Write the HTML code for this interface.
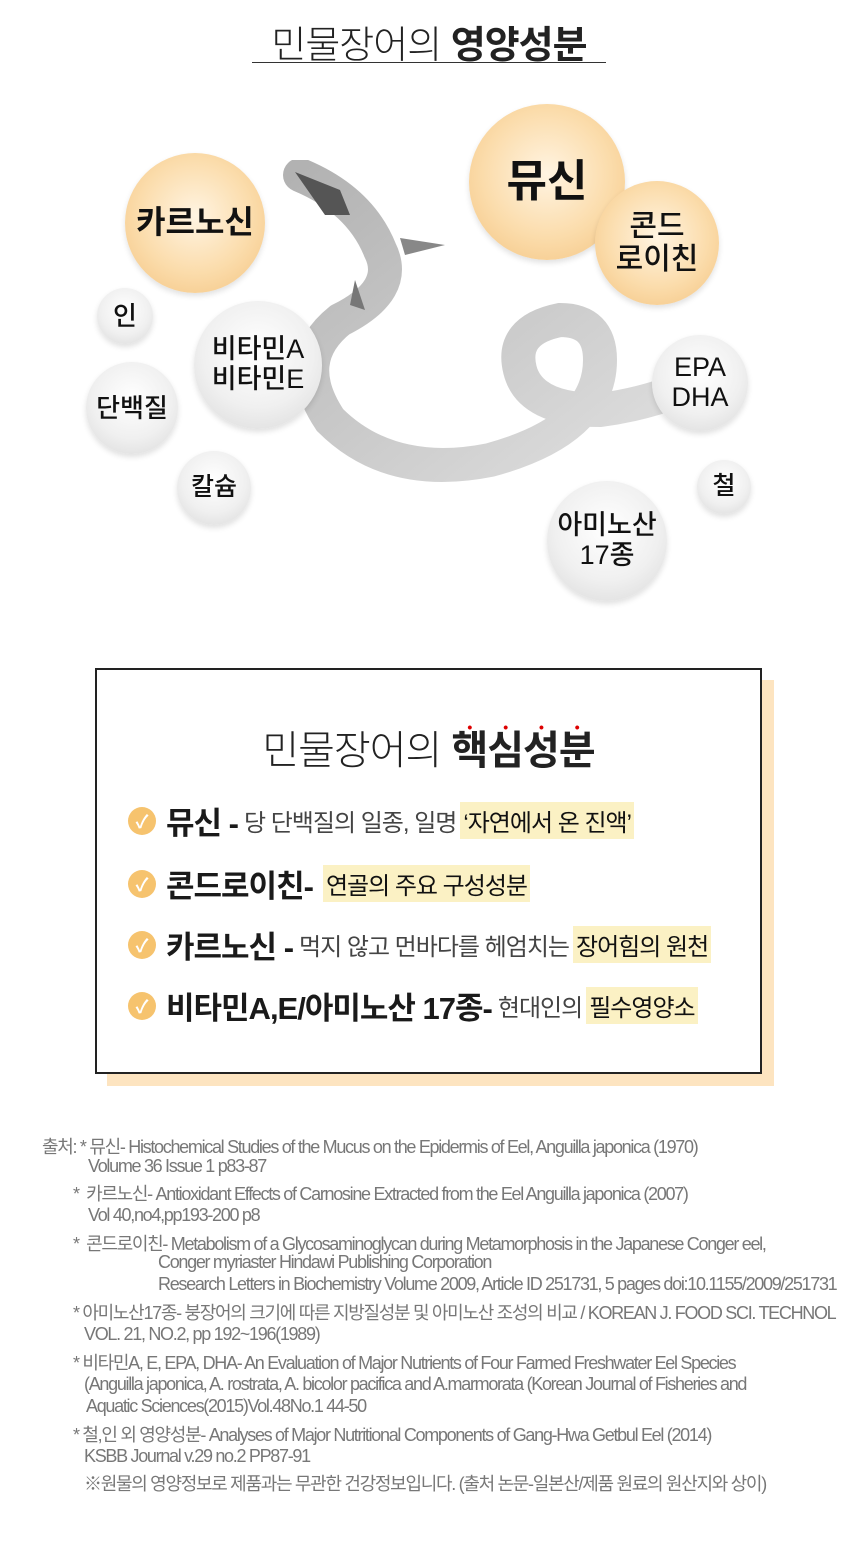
<!DOCTYPE html>
<html><head><meta charset="utf-8"><style>
*{margin:0;padding:0;box-sizing:border-box}
body{width:860px;height:1560px;background:#fff;position:relative;overflow:hidden;font-family:"Liberation Sans","Noto Sans CJK KR",sans-serif;color:#111}
.a{position:absolute}
.c{position:absolute;border-radius:50%;display:flex;align-items:center;justify-content:center;text-align:center;font-weight:500;color:#111;line-height:1.1}
.o{background:radial-gradient(circle at 50% 45%,#fff4e2 0%,#fbdcab 55%,#f3c27e 100%);box-shadow:0 3px 6px rgba(0,0,0,.12)}
.g{background:radial-gradient(circle at 50% 40%,#ffffff 0%,#f0f0f0 55%,#d8d8d8 100%);box-shadow:0 3px 6px rgba(0,0,0,.12)}
.row{position:absolute;left:128px;display:flex;align-items:center;white-space:nowrap}
.chk{width:28px;height:28px;border-radius:50%;background:#f6c36e;color:#fff;font-size:18px;font-weight:bold;display:flex;align-items:center;justify-content:center;margin-right:10px}
.b{font-size:31px;font-weight:bold;color:#1a1a1a;letter-spacing:-1px}
.n{font-size:24px;color:#444;letter-spacing:-1px;margin-left:6px}
.h{background:#fbf1c4;font-size:24px;color:#111;padding:1px 3px;letter-spacing:-1px;margin-left:4px}
.ref{position:absolute;font-size:18px;color:#777;letter-spacing:-1.3px;white-space:nowrap}
</style></head><body>
<div class="a" style="left:252px;top:14px;width:354px;text-align:center;font-size:38px;letter-spacing:-1px;color:#222"><span style="font-weight:300">민물장어의 </span><b>영양성분</b></div>
<div class="a" style="left:252px;top:62px;width:354px;height:1px;background:#333"></div>

<svg class="a" style="left:280px;top:160px" width="420" height="420" viewBox="280 160 420 420">
<defs><linearGradient id="eg" x1="0" y1="0" x2="1" y2="1"><stop offset="0" stop-color="#555"/><stop offset="1" stop-color="#bbb"/></linearGradient></defs>
<path d="M300 175 Q360 200 380 250 Q400 290 340 320 Q290 360 330 420 Q390 480 490 460 Q600 430 600 360 Q600 320 560 320 Q510 330 520 370 Q530 410 600 410 Q640 405 680 390" fill="none" stroke="url(#eg)" stroke-width="34" stroke-linecap="round" opacity=".45"/>
<path d="M295 172 L340 190 L350 215 L325 215 Z" fill="#555"/>
<path d="M400 238 L445 245 L405 255 Z" fill="#888"/>
<path d="M355 280 L365 310 L350 305 Z" fill="#777"/>
</svg>

<div class="c o" style="left:125px;top:153px;width:140px;height:140px;font-size:32px;font-weight:bold">카르노신</div>
<div class="c o" style="left:469px;top:104px;width:156px;height:156px;font-size:44px;font-weight:bold">뮤신</div>
<div class="c o" style="left:595px;top:181px;width:124px;height:124px;font-size:30px">콘드<br>로이친</div>
<div class="c g" style="left:97px;top:288px;width:56px;height:56px;font-size:26px">인</div>
<div class="c g" style="left:194px;top:301px;width:128px;height:128px;font-size:27px">비타민A<br>비타민E</div>
<div class="c g" style="left:86px;top:362px;width:92px;height:92px;font-size:26px">단백질</div>
<div class="c g" style="left:177px;top:451px;width:74px;height:74px;font-size:25px">칼슘</div>
<div class="c g" style="left:652px;top:335px;width:96px;height:96px;font-size:27px">EPA<br>DHA</div>
<div class="c g" style="left:697px;top:460px;width:54px;height:54px;font-size:25px">철</div>
<div class="c g" style="left:547px;top:481px;width:120px;height:120px;font-size:27px">아미노산<br>17종</div>

<div class="a" style="left:107px;top:680px;width:667px;height:406px;background:#fde4c0"></div>
<div class="a" style="left:95px;top:668px;width:667px;height:406px;background:#fff;border:2px solid #222"></div>
<div class="a" style="left:95px;top:718px;width:667px;text-align:center;font-size:40px;letter-spacing:-1px;color:#222"><span style="font-weight:300">민물장어의 </span><b style="position:relative">핵심성분<span style="position:absolute;left:0;top:-10px;width:100%;display:flex;justify-content:space-around;color:#d00;font-size:14px">•<span>•</span><span>•</span><span>•</span></span></b></div>

<div class="row" style="top:798px"><span class="chk">✓</span><span class="b">뮤신 -</span><span class="n">당 단백질의 일종, 일명</span><span class="h">‘자연에서 온 진액’</span></div>
<div class="row" style="top:861px"><span class="chk">✓</span><span class="b">콘드로이친-</span><span class="h" style="margin-left:10px">연골의 주요 구성성분</span></div>
<div class="row" style="top:922px"><span class="chk">✓</span><span class="b">카르노신 -</span><span class="n">먹지 않고 먼바다를 헤엄치는</span><span class="h">장어힘의 원천</span></div>
<div class="row" style="top:983px"><span class="chk">✓</span><span class="b">비타민A,E/아미노산 17종-</span><span class="n">현대인의</span><span class="h">필수영양소</span></div>

<div class="ref" style="left:42px;top:1133px">출처: * 뮤신- Histochemical Studies of the Mucus on the Epidermis of Eel, Anguilla japonica (1970)</div>
<div class="ref" style="left:88px;top:1156px">Volume 36 Issue 1 p83-87</div>
<div class="ref" style="left:73px;top:1180px">*&nbsp; 카르노신- Antioxidant Effects of Carnosine Extracted from the Eel Anguilla japonica (2007)</div>
<div class="ref" style="left:88px;top:1205px">Vol 40,no4,pp193-200 p8</div>
<div class="ref" style="left:73px;top:1230px">*&nbsp; 콘드로이친- Metabolism of a Glycosaminoglycan during Metamorphosis in the Japanese Conger eel,</div>
<div class="ref" style="left:158px;top:1252px">Conger myriaster Hindawi Publishing Corporation</div>
<div class="ref" style="left:158px;top:1274px">Research Letters in Biochemistry Volume 2009, Article ID 251731, 5 pages doi:10.1155/2009/251731</div>
<div class="ref" style="left:73px;top:1299px">* 아미노산17종- 붕장어의 크기에 따른 지방질성분 및 아미노산 조성의 비교 / KOREAN J. FOOD SCI. TECHNOL</div>
<div class="ref" style="left:84px;top:1324px">VOL. 21, NO.2, pp 192~196(1989)</div>
<div class="ref" style="left:73px;top:1349px">* 비타민A, E, EPA, DHA- An Evaluation of Major Nutrients of Four Farmed Freshwater Eel Species</div>
<div class="ref" style="left:84px;top:1374px">(Anguilla japonica, A. rostrata, A. bicolor pacifica and A.marmorata (Korean Journal of Fisheries and</div>
<div class="ref" style="left:86px;top:1396px">Aquatic Sciences(2015)Vol.48No.1 44-50</div>
<div class="ref" style="left:73px;top:1421px">* 철,인 외 영양성분- Analyses of Major Nutritional Components of Gang-Hwa Getbul Eel (2014)</div>
<div class="ref" style="left:84px;top:1446px">KSBB Journal v.29 no.2 PP87-91</div>
<div class="ref" style="left:84px;top:1470px">※원물의 영양정보로 제품과는 무관한 건강정보입니다. (출처 논문-일본산/제품 원료의 원산지와 상이)</div>
</body></html>
